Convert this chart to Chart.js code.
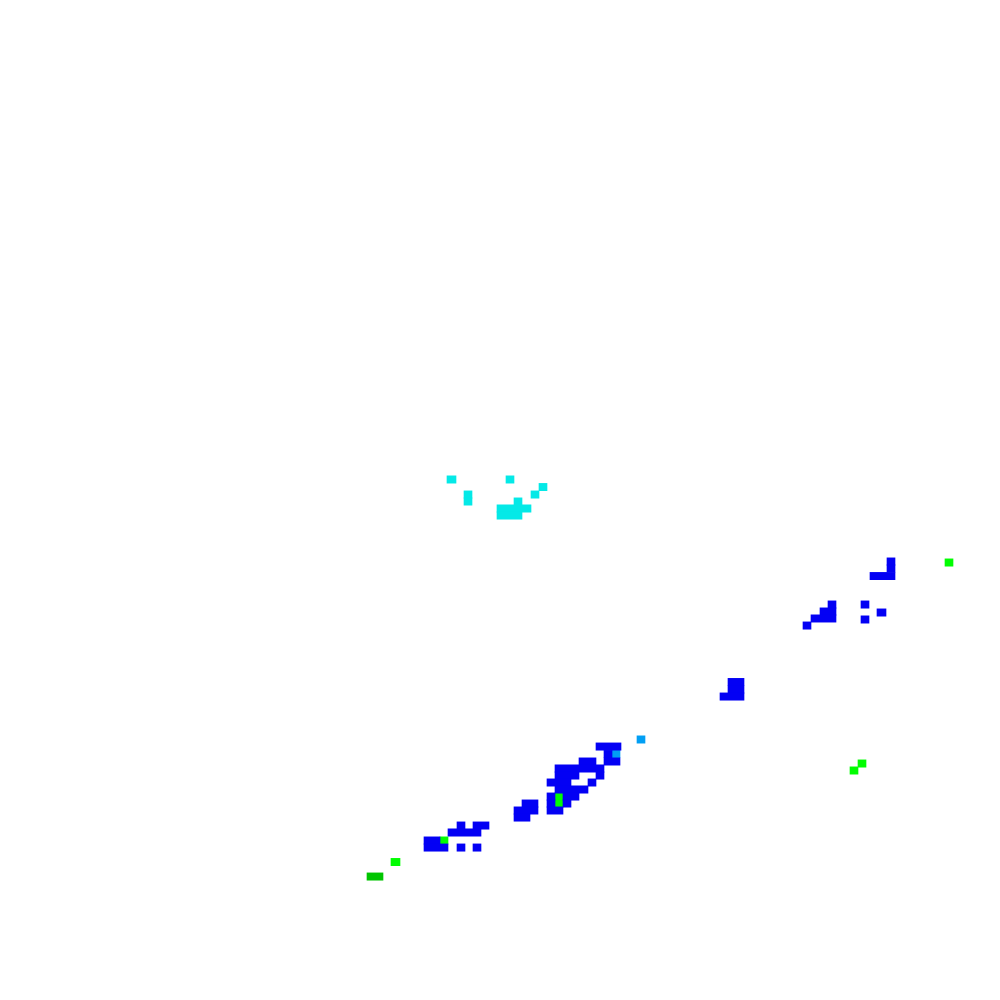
<!DOCTYPE html>
<html>
<head>
<meta charset="utf-8">
<script src="https://cdn.jsdelivr.net/npm/chart.js@4.4.1/dist/chart.umd.min.js"></script>
<style>
  html, body { margin: 0; padding: 0; background: #ffffff; }
  #wrap { width: 1000px; height: 1000px; position: relative; }
</style>
</head>
<body>
<div id="wrap"><canvas id="c"></canvas></div>
<script>
// Grid: x in column units (0..120), y in row units (0..139, top to bottom).
// Each entry: [rowCenter, colStart, colEnd]
const cyanCells = [
  [66.65, 53.64, 54.72], [66.65, 60.72, 61.68],
  [67.70, 64.68, 65.64],
  [68.74, 55.68, 56.64], [68.74, 63.72, 64.68],
  [69.71, 55.68, 56.64], [69.71, 61.68, 62.64],
  [70.68, 59.64, 63.72],
  [71.66, 59.64, 62.64]
];
const blueCells = [
  [78.05, 106.44, 107.40],
  [79.02, 106.44, 107.40],
  [80.07, 104.40, 107.40],
  [84.03, 99.36, 100.32], [84.03, 103.32, 104.28],
  [85.00, 98.40, 100.32], [85.14, 105.24, 106.32],
  [85.97, 97.32, 100.32], [86.11, 103.32, 104.28],
  [86.95, 96.36, 97.32],
  [94.80, 87.36, 89.28],
  [95.84, 87.36, 89.28],
  [96.82, 86.40, 89.28],
  [103.77, 71.52, 74.52],
  [104.81, 72.48, 73.44],
  [105.85, 69.48, 71.52], [105.85, 72.48, 74.40],
  [106.82, 66.60, 72.48],
  [107.80, 66.60, 69.48], [107.80, 71.52, 72.48],
  [108.77, 65.64, 68.52], [108.77, 70.56, 71.52],
  [109.74, 66.60, 70.56],
  [110.72, 65.64, 66.60], [110.72, 67.56, 69.48],
  [111.69, 65.64, 66.60], [111.69, 67.56, 68.52], [111.69, 62.64, 64.56],
  [112.66, 65.64, 67.56], [112.66, 61.68, 64.56],
  [113.64, 61.68, 63.60],
  [114.75, 54.84, 55.80], [114.75, 56.76, 58.68],
  [115.72, 53.76, 57.72],
  [116.83, 50.88, 52.80],
  [117.81, 50.88, 53.76], [117.81, 54.84, 55.80], [117.81, 56.76, 57.72]
];
const lightBlueCells = [
  [102.79, 76.44, 77.40],
  [104.81, 73.44, 74.40]
];
const greenCells = [
  [78.19, 113.40, 114.36],
  [106.13, 102.96, 103.92],
  [107.10, 102.00, 102.96],
  [110.72, 66.60, 67.56],
  [111.69, 66.60, 67.56],
  [116.83, 52.80, 53.76],
  [119.82, 46.92, 48.00]
];
const darkGreenCells = [
  [121.84, 44.04, 45.96]
];

const seriesNames = ['cyan', 'blue', 'lightBlue', 'green', 'darkGreen'];
const seriesCells = [cyanCells, blueCells, lightBlueCells, greenCells, darkGreenCells];
const seriesColors = ['#04e9e7', '#0300f4', '#019ff4', '#02fd02', '#01c501'];

const datasets = seriesCells.map((cells, i) => ({
  label: seriesNames[i],
  data: cells.map(c => ({ y: c[0], x: [c[1], c[2]] })),
  backgroundColor: seriesColors[i],
  borderWidth: 0,
  borderSkipped: false,
  barThickness: 7.3,
  grouped: false
}));

new Chart(document.getElementById('c'), {
  type: 'bar',
  data: { datasets },
  options: {
    indexAxis: 'y',
    responsive: true,
    maintainAspectRatio: false,
    animation: false,
    devicePixelRatio: 1,
    layout: { padding: 0 },
    plugins: { legend: { display: false }, tooltip: { enabled: false } },
    scales: {
      x: { type: 'linear', min: 0, max: 120, offset: false, display: false },
      y: { type: 'linear', min: 0, max: 139, reverse: true, offset: false, display: false }
    }
  }
});
</script>
</body>
</html>
